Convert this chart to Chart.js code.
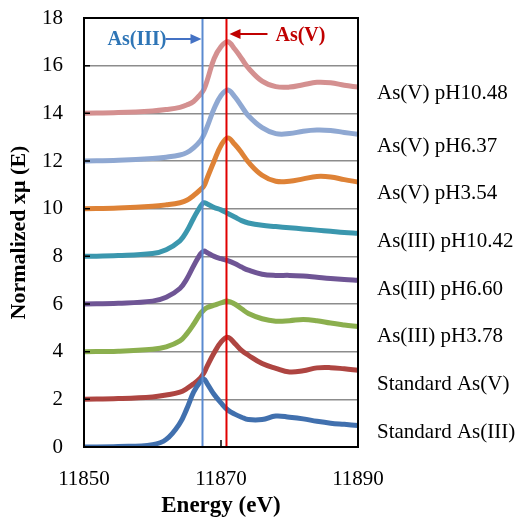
<!DOCTYPE html>
<html>
<head>
<meta charset="utf-8">
<script src="https://cdn.jsdelivr.net/npm/chart.js@4"></script>
<style>
  html, body { margin: 0; padding: 0; background: #fff; }
  #wrap { width: 520px; height: 520px; }
</style>
</head>
<body>
<div id="wrap"><canvas id="c" width="520" height="520"></canvas></div>
<script>
// energy grid (eV), shared by all spectra
const energy = [11850, 11855, 11860, 11862, 11864, 11865, 11866, 11867, 11867.5, 11868, 11869, 11870,
                11871, 11872, 11873, 11874, 11876, 11878, 11880, 11882, 11884, 11886, 11888, 11890];

// normalized spectra, already offset as in the figure
const stdAsIII  = [0, 0.02, 0.1, 0.32, 1.0, 1.6, 2.3, 2.75, 2.85, 2.65, 2.2, 1.85, 1.55, 1.38, 1.25, 1.15, 1.15, 1.3, 1.25, 1.18, 1.08, 1.0, 0.95, 0.9];
const stdAsV    = [2.0, 2.03, 2.1, 2.18, 2.3, 2.45, 2.65, 2.9, 3.1, 3.4, 3.95, 4.4, 4.6, 4.35, 4.05, 3.85, 3.5, 3.3, 3.15, 3.2, 3.32, 3.33, 3.28, 3.22];
const asIIIpH378  = [4.0, 4.02, 4.1, 4.2, 4.45, 4.75, 5.15, 5.6, 5.75, 5.85, 5.95, 6.05, 6.12, 6.0, 5.8, 5.6, 5.38, 5.28, 5.3, 5.35, 5.3, 5.2, 5.12, 5.05];
const asIIIpH660  = [6.0, 6.03, 6.12, 6.28, 6.65, 7.05, 7.6, 8.1, 8.22, 8.15, 8.0, 7.9, 7.82, 7.7, 7.55, 7.42, 7.25, 7.2, 7.2, 7.17, 7.12, 7.07, 7.03, 7.0];
const asIIIpH1042 = [8.0, 8.03, 8.12, 8.28, 8.65, 9.05, 9.6, 10.1, 10.25, 10.2, 10.05, 9.95, 9.8, 9.65, 9.5, 9.4, 9.3, 9.25, 9.2, 9.15, 9.1, 9.05, 9.0, 8.97];
const asVpH354    = [10.0, 10.03, 10.1, 10.16, 10.25, 10.35, 10.55, 10.8, 10.95, 11.3, 12.0, 12.65, 12.97, 12.7, 12.35, 11.95, 11.4, 11.15, 11.15, 11.25, 11.35, 11.33, 11.22, 11.12];
const asVpH637    = [12.0, 12.03, 12.1, 12.16, 12.25, 12.35, 12.55, 12.85, 13.1, 13.45, 14.2, 14.75, 14.98, 14.7, 14.3, 13.9, 13.4, 13.15, 13.15, 13.25, 13.3, 13.28, 13.2, 13.12];
const asVpH1048   = [14.0, 14.03, 14.1, 14.16, 14.25, 14.35, 14.5, 14.8, 15.0, 15.4, 16.3, 16.8, 17.0, 16.7, 16.3, 15.9, 15.35, 15.12, 15.1, 15.2, 15.3, 15.28, 15.18, 15.1];

const seriesNames = ['Standard As(III)', 'Standard As(V)', 'As(III) pH3.78', 'As(III) pH6.60',
                     'As(III) pH10.42', 'As(V) pH3.54', 'As(V) pH6.37', 'As(V) pH10.48'];
const seriesData = [stdAsIII, stdAsV, asIIIpH378, asIIIpH660, asIIIpH1042, asVpH354, asVpH637, asVpH1048];
const seriesColors = ['#4170AE', '#AE4541', '#8BAF4E', '#6F5595', '#3B97AE', '#DE8236', '#8FA8D2', '#D49090'];

// white-line positions marked in the figure
const markerE = [11867.3, 11870.8];
const markerText = ['As(III)', 'As(V)'];

const xTicks = [11850, 11870, 11890];

const SERIF = '"Liberation Serif", "DejaVu Serif", serif';

const datasets = seriesData.map((vals, i) => ({
    label: seriesNames[i],
    data: energy.map((e, j) => ({ x: e, y: vals[j] })),
    borderColor: seriesColors[i],
    backgroundColor: seriesColors[i],
    borderWidth: 5,
    pointRadius: 0,
    tension: 0.4,
    borderCapStyle: 'round',
    borderJoinStyle: 'round',
    fill: false
}));

function arrow(ctx, x1, x2, y, color) {
    const dir = Math.sign(x2 - x1);
    ctx.strokeStyle = color;
    ctx.fillStyle = color;
    ctx.lineWidth = 2;
    ctx.beginPath();
    ctx.moveTo(x1, y);
    ctx.lineTo(x2 - dir * 8, y);
    ctx.stroke();
    ctx.beginPath();
    ctx.moveTo(x2, y);
    ctx.lineTo(x2 - dir * 11, y - 5);
    ctx.lineTo(x2 - dir * 11, y + 5);
    ctx.closePath();
    ctx.fill();
}

// box, inner ticks, marker lines, right-hand labels
const decor = {
    id: 'decor',
    afterDatasetsDraw(chart) {
        const { ctx, chartArea: a, scales: { x, y } } = chart;
        ctx.save();

        // marker lines
        const mx = markerE.map(e => x.getPixelForValue(e));
        ctx.lineWidth = 2;
        ctx.strokeStyle = '#5A8AD0';
        ctx.beginPath(); ctx.moveTo(mx[0], a.top); ctx.lineTo(mx[0], a.bottom); ctx.stroke();
        ctx.strokeStyle = '#E00000';
        ctx.beginPath(); ctx.moveTo(mx[1], a.top); ctx.lineTo(mx[1], a.bottom); ctx.stroke();

        // plot frame
        ctx.strokeStyle = '#000';
        ctx.lineWidth = 2;
        ctx.strokeRect(a.left, a.top, a.right - a.left, a.bottom - a.top);

        // inward ticks
        ctx.lineWidth = 1.5;
        ctx.beginPath();
        y.ticks.forEach(t => {
            const py = y.getPixelForValue(t.value);
            ctx.moveTo(a.left, py); ctx.lineTo(a.left + 6, py);
        });
        x.ticks.forEach(t => {
            const px = x.getPixelForValue(t.value);
            ctx.moveTo(px, a.bottom); ctx.lineTo(px, a.bottom - 7);
        });
        ctx.stroke();

        // marker annotations
        const ay = a.top + 21;
        ctx.font = 'bold 20px ' + SERIF;
        ctx.textBaseline = 'middle';
        ctx.fillStyle = '#2E75B6';
        ctx.textAlign = 'right';
        ctx.fillText(markerText[0], mx[0] - 36, ay + 1);
        arrow(ctx, mx[0] - 37, mx[0] - 1, ay, '#4472C4');
        ctx.fillStyle = '#C00000';
        ctx.textAlign = 'left';
        ctx.fillText(markerText[1], mx[1] + 49, ay - 3);
        arrow(ctx, mx[1] + 41, mx[1] + 3, ay - 5, '#C00000');

        // series names beside the curves
        ctx.fillStyle = '#000';
        ctx.font = '21px ' + SERIF;
        ctx.textAlign = 'left';
        ctx.textBaseline = 'middle';
        seriesData.forEach((vals, i) => {
            const lift = i === seriesData.length - 1 ? 0.85 : 0.62;
            ctx.fillText(seriesNames[i], a.right + 19, y.getPixelForValue(vals[0] + lift));
        });
        ctx.restore();
    }
};

new Chart(document.getElementById('c'), {
    type: 'line',
    data: { datasets },
    options: {
        responsive: false,
        animation: false,
        layout: { padding: { left: 0, right: 162, top: 18, bottom: 0 } },
        plugins: { legend: { display: false }, tooltip: { enabled: false } },
        scales: {
            x: {
                type: 'linear',
                min: 11850, max: 11890,
                afterBuildTicks: s => { s.ticks = xTicks.map(v => ({ value: v })); },
                afterFit: s => { s.height = 73; },
                grid: { display: false, drawTicks: false },
                border: { display: false },
                ticks: { color: '#000', padding: 20, maxRotation: 0, callback: v => String(v),
                         font: { family: SERIF, size: 21 } },
                title: { display: true, text: 'Energy (eV)', color: '#000', padding: { bottom: 0 },
                         font: { family: SERIF, size: 23, weight: 'bold' } }
            },
            y: {
                min: 0, max: 18,
                ticks: { stepSize: 2, color: '#000', padding: 21, font: { family: SERIF, size: 21 } },
                afterFit: s => { s.width = 84; s.paddingTop = 0; s.paddingBottom = 0; },
                grid: { color: '#8C8C8C', lineWidth: 1.4, drawTicks: false },
                border: { display: false },
                title: { display: true, text: 'Normalized xμ (E)', color: '#000', padding: { top: 6 },
                         font: { family: SERIF, size: 22, weight: 'bold' } }
            }
        }
    },
    plugins: [decor]
});
</script>
</body>
</html>
